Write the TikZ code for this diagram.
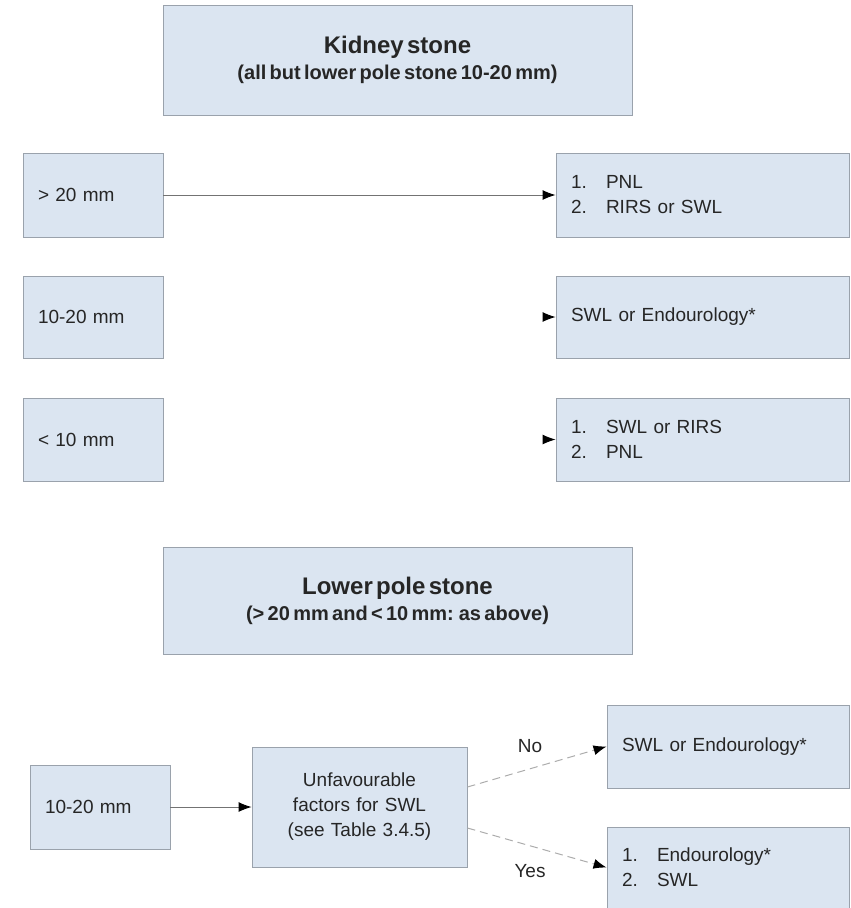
\documentclass[tikz,border=0pt]{standalone}
\usepackage{fontspec}
\setmainfont{Liberation Sans}
\usepackage{xcolor}
\usetikzlibrary{arrows.meta}
\definecolor{boxblue}{HTML}{DBE5F1}
\definecolor{boxline}{HTML}{9AA2AC}
\definecolor{txtgray}{HTML}{262626}

\begin{document}
\begin{tikzpicture}[x=1pt, y=-1pt, font=\fontsize{19}{25}\selectfont, text=txtgray,
	box/.style={draw=boxline, line width=0.9pt, fill=boxblue, inner xsep=15pt, inner ysep=0pt, align=left},
	head/.style={box, font=\bfseries, align=center, text width=439pt, minimum height=108pt},
	arr/.style={draw=gray!90!black, line width=0.9pt, -{Latex[length=13pt, width=10pt, color=black]}},
	dasharr/.style={arr, draw=gray!65, line width=1pt, dash pattern=on 8pt off 5pt}]
	\useasboundingbox (0,0) rectangle (851,908);
	\node[head, minimum height=110pt] (kidney) at (397.5,60) {{\fontsize{24}{28}\selectfont Kidney stone}\\[6pt]{\fontsize{20}{24}\selectfont (all but lower pole stone 10-20 mm)}};
	\node[box, text width=110pt, minimum height=84pt] (big) at (93,195) {> 20 mm};
	\node[box, text width=110pt, minimum height=82pt] (mid) at (93,317) {10-20 mm};
	\node[box, text width=110pt, minimum height=83pt] (small) at (93,439.5) {< 10 mm};
	\node[box, text width=263pt, minimum height=84pt] (bigtx) at (702.5,195) {\makebox[35pt][l]{1.}PNL\\\makebox[35pt][l]{2.}RIRS or SWL};
	\node[box, text width=263pt, minimum height=82pt] (midtx) at (702.5,317) {SWL or Endourology*};
	\node[box, text width=263pt, minimum height=83pt] (smalltx) at (702.5,439.5) {\makebox[35pt][l]{1.}SWL or RIRS\\\makebox[35pt][l]{2.}PNL};
	\draw[arr] (big) -- (bigtx);
	\draw[arr, draw=white, shorten <=2pt] (mid) -- (midtx);
	\draw[arr, draw=white, shorten <=2pt] (small) -- (smalltx);
	\node[head, minimum height=107pt] (lower) at (397.5,601) {{\fontsize{24}{28}\selectfont Lower pole stone}\\[6pt]{\fontsize{20}{24}\selectfont (> 20 mm and < 10 mm: as above)}};
	\node[box, text width=110pt, minimum height=84pt] (lowmid) at (100,807) {10-20 mm};
	\node[box, align=center, text width=185pt, minimum height=120pt] (unfav) at (359.5,807) {Unfavourable\\factors for SWL\\(see Table 3.4.5)};
	\node[box, text width=212pt, minimum height=83pt] (notx) at (728,746.5) {SWL or Endourology*};
	\node[box, text width=212pt, minimum height=81pt] (yestx) at (728,867.5) {\makebox[35pt][l]{1.}Endourology*\\\makebox[35pt][l]{2.}SWL};
	\draw[arr] (lowmid) -- (unfav);
	\draw[dasharr] ([yshift=20pt]unfav.east) -- (notx.west) node[pos=0.45, above=12pt] (nolab) {No};
	\draw[dasharr] ([yshift=-21pt]unfav.east) -- (yestx.west) node[pos=0.45, below=15pt] (yeslab) {Yes};
\end{tikzpicture}
\end{document}
